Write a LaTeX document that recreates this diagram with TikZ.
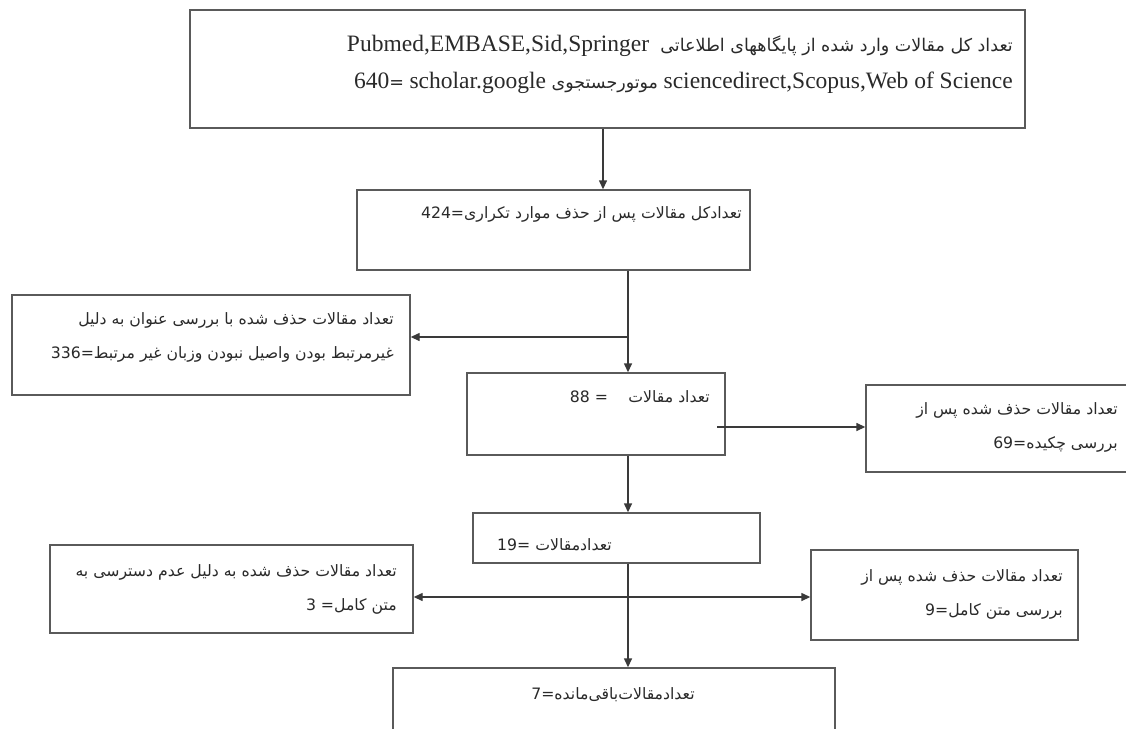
\documentclass[tikz,border=0pt]{standalone}
\usepackage{fontspec}
\setmainfont{Liberation Serif}
\newfontfamily\fa[Script=Arabic]{DejaVu Sans}
\newfontfamily\lat{Liberation Serif}
\newfontfamily\las{DejaVu Sans}
\TeXXeTstate=1
\usetikzlibrary{arrows.meta,calc,fit}
\newcommand{\lnum}[1]{\beginL{\las #1}\endL}
\newcommand{\tlat}[1]{\beginL{\lat\fontsize{23.5}{37}\selectfont #1}\endL}
\definecolor{boxgray}{HTML}{5A5A5A}
\definecolor{linegray}{HTML}{3A3A3A}
\definecolor{txt}{HTML}{2A2A2A}
\tikzset{
  box/.style={draw=boxgray, line width=1.4pt, inner sep=0pt, rectangle},
  arr/.style={draw=linegray, line width=1.4pt, -{Triangle[length=9pt,width=8pt]}},
  txtfa/.style={inner sep=0pt, text=txt, align=right, font={\fa\fontsize{15.7}{34}\selectfont}},
  txttop/.style={inner sep=0pt, text=txt, align=right, font={\fa\fontsize{17.5}{37}\selectfont}}
}
\begin{document}
\begin{tikzpicture}[x=1pt,y=-1pt]
\useasboundingbox (0,0) rectangle (1126,728);
\clip (0,0) rectangle (1126,728);
\fill[white] (0,0) rectangle (1126,728);
% boxes
\node[box, fit={(190,10) (1025,128)}] (top) {};
\node[box, fit={(357,190) (750,270)}] (b2) {};
\node[box, fit={(12,295) (410,395)}] (lb) {};
\node[box, fit={(467,373) (725,455)}] (b88) {};
\node[box, fit={(866,385) (1140,472)}] (rb) {};
\node[box, fit={(473,513) (760,563)}] (b19) {};
\node[box, fit={(50,545) (413,633)}] (blb) {};
\node[box, fit={(811,550) (1078,640)}] (brb) {};
\node[box, fit={(393,668) (835,745)}] (fin) {};
% texts
\node[txttop, anchor=east] (ttop) at (1013,64)
 {\beginR تعداد کل مقالات وارد شده از پایگاههای اطلاعاتی\ \ \tlat{Pubmed,EMBASE,Sid,Springer}\endR\\
  \beginR\tlat{sciencedirect,Scopus,Web of Science}{} موتورجستجوی \tlat{scholar.google}{} =\tlat{640}\endR};
\node[txtfa, anchor=east] (tb2) at (742,214)
 {\beginR تعدادکل مقالات پس از حذف موارد تکراری=\lnum{424}\endR};
\node[txtfa, anchor=east] (tlb) at (394,337)
 {\beginR تعداد مقالات حذف شده با بررسی عنوان به دلیل\endR\\
  \beginR غیرمرتبط بودن واصیل نبودن وزبان غیر مرتبط=\lnum{336}\endR};
\node[txtfa, anchor=east] (tb88) at (710,397)
 {\beginR تعداد مقالات\hspace{1.3em}= \lnum{88}\endR};
\node[txtfa, anchor=east] (trb) at (1118,427)
 {\beginR تعداد مقالات حذف شده پس از\endR\\
  \beginR بررسی چکیده=\lnum{69}\endR};
\node[txtfa, anchor=west] (tb19) at (497,545)
 {\beginR تعدادمقالات =\lnum{19}\endR};
\node[txtfa, anchor=east] (tblb) at (397,589)
 {\beginR تعداد مقالات حذف شده به دلیل عدم دسترسی به\endR\\
  \beginR متن کامل= \lnum{3}\endR};
\node[txtfa, anchor=east] (tbrb) at (1063,594)
 {\beginR تعداد مقالات حذف شده پس از\endR\\
  \beginR بررسی متن کامل=\lnum{9}\endR};
\node[txtfa, anchor=center] (tfin) at (613,695)
 {\beginR تعدادمقالات‌باقی‌مانده=\lnum{7}\endR};
% connectors
\coordinate (c1) at (603,0);
\coordinate (cx) at (628,0);
\draw[arr] (top.south -| c1) -- (b2.north -| c1);
\draw[arr] (b2.south -| cx) -- (b88.north -| cx);
\coordinate (j1) at (628,337);
\draw[arr] (j1) -- (j1 -| lb.east);
\coordinate (j2) at (717,427);
\draw[arr] (j2) -- (j2 -| rb.west);
\draw[arr] (b88.south -| cx) -- (b19.north -| cx);
\draw[arr] (b19.south -| cx) -- (fin.north -| cx);
\coordinate (j3) at (628,597);
\draw[arr] (j3) -- (j3 -| blb.east);
\draw[arr] (j3) -- (j3 -| brb.west);
\end{tikzpicture}
\end{document}
